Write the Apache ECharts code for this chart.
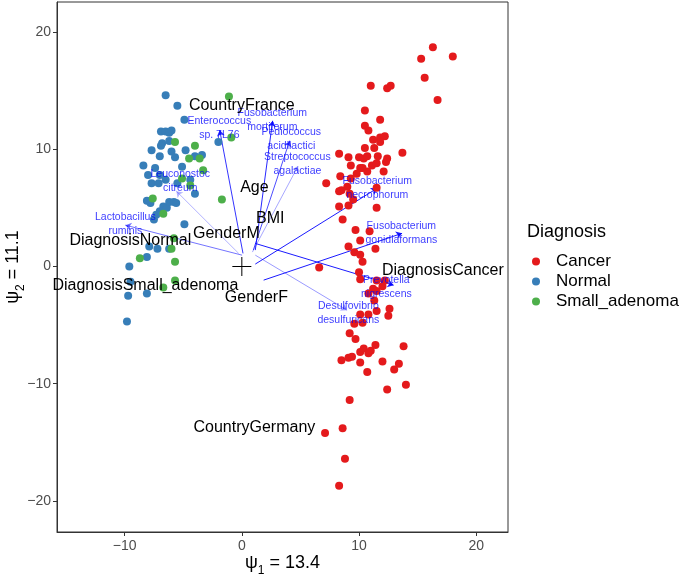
<!DOCTYPE html>
<html>
<head>
<meta charset="utf-8">
<script src="https://cdn.jsdelivr.net/npm/echarts@6/dist/echarts.min.js"></script>
<style>
  html, body { margin: 0; padding: 0; background: #fff; }
  #chart { width: 682px; height: 574px; }
</style>
</head>
<body>
<div id="chart"></div>
<script>
// sample scores (psi1, psi2) by diagnosis
const cancerPts = [
  [16.3, 18.7], [15.3, 17.7], [18.0, 17.9], [15.6, 16.1], [16.7, 14.2],
  [11.0, 15.4], [12.4, 15.2], [12.7, 15.4], [10.5, 13.3], [11.8, 12.5],
  [10.5, 12.0], [10.8, 11.6], [11.2, 10.8], [11.8, 11.0], [12.2, 11.1],
  [11.8, 10.6], [10.5, 10.1], [11.3, 10.1], [13.7, 9.7], [8.3, 9.6],
  [9.1, 9.3], [10.0, 9.3], [10.4, 9.2], [10.7, 9.4], [11.6, 9.4],
  [12.4, 9.2], [12.3, 8.9], [9.3, 8.6], [10.1, 8.4], [11.1, 8.6],
  [11.5, 8.8], [7.2, 7.1], [8.4, 7.7], [9.0, 6.8], [8.3, 6.4],
  [8.5, 6.5], [9.2, 6.2], [9.5, 5.7], [9.3, 7.5], [9.8, 7.9],
  [10.3, 8.4], [10.7, 8.1], [12.1, 8.1], [11.5, 6.7], [11.5, 5.0],
  [8.3, 5.1], [9.1, 5.2], [8.6, 4.0], [9.7, 3.1], [10.9, 3.0],
  [10.1, 2.2], [11.4, 1.5], [9.1, 1.7], [9.6, 1.2], [10.1, 1.0],
  [10.3, 0.4], [6.6, -0.1], [10.0, -0.5], [10.1, -1.1], [11.5, -1.2],
  [12.2, -1.2], [11.2, -1.9], [11.5, -2.1], [10.8, -2.3], [12.0, -1.7],
  [12.6, -3.6], [12.5, -4.2], [11.5, -3.8], [10.8, -4.1], [10.1, -4.1],
  [9.6, -4.9], [11.3, -2.9], [10.3, -4.8], [9.2, -5.7], [9.7, -6.2],
  [11.4, -6.7], [13.8, -6.8], [10.1, -7.3], [10.4, -7.0], [10.8, -7.4],
  [11.0, -7.2], [8.5, -8.0], [9.1, -7.8], [9.4, -7.7], [10.1, -8.2],
  [12.0, -8.1], [13.4, -8.3], [13.0, -8.8], [10.7, -9.0], [12.4, -10.5],
  [14.0, -10.1], [9.2, -11.4], [8.6, -13.8], [7.1, -14.2], [8.8, -16.4],
  [8.3, -18.7]
];
const normalPts = [
  [-6.5, 14.6], [-5.5, 13.7], [-4.9, 12.5], [-2.0, 10.6], [-6.9, 11.5],
  [-6.5, 11.5], [-6.2, 11.4], [-6.0, 11.6], [-6.8, 10.5], [-6.9, 10.3],
  [-6.2, 10.7], [-7.7, 9.9], [-7.0, 9.4], [-6.0, 9.8], [-5.7, 9.3],
  [-4.8, 9.9], [-4.0, 9.4], [-3.4, 9.5], [-5.1, 8.5], [-8.4, 8.6],
  [-7.4, 8.4], [-8.0, 7.8], [-7.0, 7.8], [-6.5, 7.4], [-4.4, 7.4],
  [-7.7, 7.1], [-7.1, 7.1], [-5.5, 7.1], [-4.0, 6.2], [-8.1, 5.6],
  [-7.8, 5.4], [-6.7, 5.1], [-6.4, 5.0], [-6.2, 5.5], [-5.8, 5.5],
  [-5.6, 5.4], [-7.0, 4.7], [-7.3, 4.4], [-7.5, 4.0], [-4.9, 3.6],
  [-7.9, 1.7], [-7.2, 1.5], [-6.2, 1.5], [-8.1, 0.8], [-9.6, 0.0],
  [-9.5, -1.3], [-8.1, -2.3], [-9.7, -2.5], [-9.8, -4.7]
];
const adenomaPts = [
  [-1.1, 14.5], [-5.7, 10.6], [-4.0, 10.3], [-4.5, 9.2], [-3.6, 9.2],
  [-3.3, 8.2], [-5.1, 7.5], [-4.4, 6.9], [-1.7, 5.7], [-7.6, 5.8],
  [-0.9, 11.0], [-6.7, 4.5], [-5.8, 2.4], [-6.0, 1.5], [-8.7, 0.7],
  [-5.7, 0.4], [-5.7, -1.2], [-6.7, -1.8]
];

// taxa loadings: arrow start, arrow end, weight (drawn as opacity), label
const taxaNames = [
  'Enterococcus\nsp. 7L76', 'Fusobacterium\nmortiferum', 'Pediococcus\nacidilactici',
  'Streptococcus\nagalactiae', 'Leuconostoc\ncitreum', 'Lactobacillus\nruminis',
  'Fusobacterium\nnecrophorum', 'Fusobacterium\ngonidiaformans',
  'Prevotella\nnigrescens', 'Desulfovibrio\ndesulfuricans'
];
const arrowFrom = [
  [0.10, 1.11], [1.15, 1.39], [0.98, 1.39], [0.90, 1.22], [-0.27, 1.11],
  [0.02, 0.96], [1.15, 0.20], [1.86, -1.17], [1.15, 1.96], [1.15, 0.96]
];
const arrowTo = [
  [-1.89, 11.63], [2.63, 12.42], [4.08, 10.72], [4.80, 8.56], [-5.59, 6.42],
  [-9.94, 3.52], [11.54, 6.66], [13.67, 2.82], [12.95, -1.60], [8.98, -3.73]
];
const arrowWeight = [0.8, 0.85, 0.7, 0.35, 0.3, 0.55, 0.9, 0.9, 0.9, 0.4];
const taxaLabelPos = [
  [-1.92, 11.79], [2.60, 12.48], [4.22, 10.86], [4.74, 8.73], [-5.25, 7.28],
  [-9.94, 3.61], [11.56, 6.68], [13.61, 2.84], [12.33, -1.77], [9.09, -3.98]
];

// covariate positions
const covNames = [
  'CountryFrance', 'Age', 'BMI', 'GenderM', 'DiagnosisNormal',
  'DiagnosisSmall_adenoma', 'GenderF', 'DiagnosisCancer', 'CountryGermany'
];
const covPos = [
  [0.0, 13.68], [1.07, 6.68], [2.43, 4.04], [-1.32, 2.76], [-9.51, 2.16],
  [-8.23, -1.60], [1.24, -2.62], [17.15, -0.32], [1.07, -13.71]
];

const xTicks = [-10, 0, 10, 20];
const yTicks = [-20, -10, 0, 10, 20];

const chart = echarts.init(document.getElementById('chart'));
const minus = v => String(v).replace('-', '\u2212');
const font = 'Liberation Sans, Arial, sans-serif';

const axisCommon = {
  type: 'value',
  splitLine: { show: false },
  axisLine: { show: true, onZero: false, lineStyle: { color: '#333', width: 1 } },
  nameLocation: 'middle',
  nameMoveOverlap: false,
  nameTextStyle: {
    color: '#000',
    fontFamily: font,
    rich: {
      a: { fontSize: 18, fontFamily: font, color: '#000', lineHeight: 20 },
      s: { fontSize: 12, fontFamily: font, color: '#000', lineHeight: 27, verticalAlign: 'bottom' }
    }
  }
};

const option = {
  animation: false,
  title: {
    text: 'Diagnosis',
    left: 527,
    top: 223,
    padding: 0,
    textStyle: { fontSize: 18, fontWeight: 'normal', color: '#000', fontFamily: font }
  },
  legend: {
    data: ['Cancer', 'Normal', 'Small_adenoma'],
    orient: 'vertical',
    left: 527,
    top: 248,
    itemWidth: 30,
    itemHeight: 8,
    itemGap: 3,
    icon: 'circle',
    textStyle: { fontSize: 17, color: '#000', fontFamily: font },
    selectedMode: false
  },
  grid: {
    left: 57, top: 2, width: 451, height: 530,
    outerBoundsMode: 'none',
    containLabel: false,
    show: true, borderColor: '#333', borderWidth: 1
  },
  xAxis: Object.assign({}, axisCommon, {
    min: -15.77, max: 22.71,
    name: '{a|\u03C8}{s|1}{a| = 13.4}',
    nameGap: 18,
    axisTick: { show: true, customValues: xTicks, length: 4, lineStyle: { color: '#333' } },
    axisLabel: { customValues: xTicks, formatter: minus, color: '#4d4d4d', fontSize: 14, margin: 7, fontFamily: font }
  }),
  yAxis: Object.assign({}, axisCommon, {
    min: -22.65, max: 22.55,
    name: '{a|\u03C8}{s|2}{a| = 11.1}',
    nameGap: 30,
    axisTick: { show: true, customValues: yTicks, length: 4, lineStyle: { color: '#333' } },
    axisLabel: { customValues: yTicks, formatter: minus, color: '#4d4d4d', fontSize: 14, margin: 6, fontFamily: font }
  }),
  series: [
    { name: 'Cancer', type: 'scatter', data: cancerPts, symbolSize: 8, itemStyle: { color: '#E41A1C', opacity: 1 }, silent: true },
    { name: 'Normal', type: 'scatter', data: normalPts, symbolSize: 8, itemStyle: { color: '#377EB8', opacity: 1 }, silent: true },
    { name: 'Small_adenoma', type: 'scatter', data: adenomaPts, symbolSize: 8, itemStyle: { color: '#4DAF4A', opacity: 1 }, silent: true },
    {
      name: 'origin', type: 'scatter', data: [[0, 0]], silent: true,
      symbol: 'path://M9,0h1v19h-1z M0,9h19v1h-19z', symbolSize: 19,
      itemStyle: { color: '#000', opacity: 1 }
    },
    {
      name: 'arrows', type: 'lines', coordinateSystem: 'cartesian2d', silent: true,
      symbol: ['none', 'arrow'], symbolSize: [5, 6],
      lineStyle: { color: '#0000ff', width: 1 },
      data: arrowFrom.map((p, i) => ({
        coords: [p, arrowTo[i]],
        lineStyle: { opacity: arrowWeight[i] }
      }))
    },
    {
      name: 'taxa', type: 'scatter', silent: true, symbolSize: 0,
      itemStyle: { opacity: 1 },
      data: taxaLabelPos.map((p, i) => ({ name: taxaNames[i], value: p })),
      label: {
        show: true, position: 'inside', formatter: '{b}', opacity: 1,
        color: 'rgba(0,0,255,0.78)', fontSize: 10.5, lineHeight: 14, fontFamily: font
      }
    },
    {
      name: 'covariates', type: 'scatter', silent: true, symbolSize: 0,
      itemStyle: { opacity: 1 },
      data: covPos.map((p, i) => ({ name: covNames[i], value: p })),
      label: {
        show: true, position: 'inside', formatter: '{b}', opacity: 1,
        color: '#000', fontSize: 16, fontFamily: font
      }
    }
  ]
};

chart.setOption(option);
</script>
</body>
</html>
